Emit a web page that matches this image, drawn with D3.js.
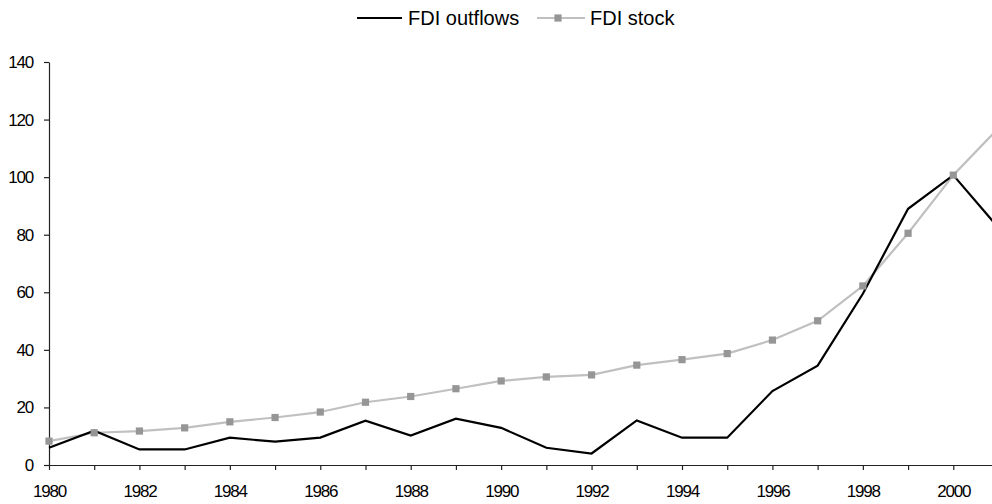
<!DOCTYPE html>
<html>
<head>
<meta charset="utf-8">
<script src="https://cdn.jsdelivr.net/npm/d3@7"></script>
<style>
  html, body { margin: 0; padding: 0; background: #fff; }
  svg { display: block; font-family: "Liberation Sans", Arial, sans-serif; }
</style>
</head>
<body>
<svg id="chart" width="992" height="504"></svg>
<script>
const years = [1980,1981,1982,1983,1984,1985,1986,1987,1988,1989,1990,1991,1992,1993,1994,1995,1996,1997,1998,1999,2000,2001];
const fdiOutflows = [6.0,11.9,5.4,5.4,9.5,8.1,9.5,15.4,10.2,16.1,12.9,6.0,4.0,15.5,9.5,9.5,25.7,34.5,59.5,89.0,100.7,82.4];
const fdiStock = [8.3,11.2,11.8,12.9,15.0,16.5,18.4,21.8,23.8,26.5,29.2,30.6,31.3,34.7,36.6,38.7,43.4,50.1,62.2,80.5,100.7,117.0];
const yTicks = [0,20,40,60,80,100,120,140];
const seriesNames = ["FDI outflows", "FDI stock"];

const svg = d3.select("#chart");
const x = d3.scaleLinear().domain([1980, 2001]).range([49, 998.5]);
const y = d3.scaleLinear().domain([0, 140]).range([465, 62]);

// Y axis
const yAxis = svg.append("g").attr("transform", "translate(49,0)")
  .call(d3.axisLeft(y).tickValues(yTicks).tickSize(5).tickSizeOuter(0).tickPadding(11));
yAxis.select(".domain").attr("stroke", "#222").attr("stroke-width", 1.2);
yAxis.selectAll(".tick line").attr("stroke", "#222").attr("stroke-width", 1.2);
yAxis.selectAll("text").attr("font-size", 17).attr("letter-spacing", "-1.2px")
  .attr("fill", "#000").attr("font-family", "'Liberation Sans', Arial, sans-serif");

// X axis
const xAxis = svg.append("g").attr("transform", "translate(0,465)")
  .call(d3.axisBottom(x).tickValues(years).tickSize(5).tickSizeOuter(0)
    .tickFormat(d => (d % 2 === 0 && d <= 2000) ? String(d) : ""));
xAxis.select(".domain").attr("stroke", "#222").attr("stroke-width", 1.2);
xAxis.selectAll(".tick line").attr("stroke", "#222").attr("stroke-width", 1.2);
xAxis.selectAll("text").attr("font-size", 17).attr("letter-spacing", "-1.2px")
  .attr("y", 32).attr("dy", null)
  .attr("fill", "#000").attr("font-family", "'Liberation Sans', Arial, sans-serif");

// Lines
const stockLine = d3.line().x((d, i) => x(years[i])).y(d => y(d));
svg.append("path").datum(fdiStock)
  .attr("fill", "none").attr("stroke", "#c0c0c0").attr("stroke-width", 2.2)
  .attr("stroke-linejoin", "round").attr("d", stockLine);

svg.append("path").datum(fdiOutflows)
  .attr("fill", "none").attr("stroke", "#000").attr("stroke-width", 2.2)
  .attr("stroke-linejoin", "miter").attr("d", stockLine);

svg.append("g").selectAll("rect").data(fdiStock).enter().append("rect")
  .attr("x", (d, i) => x(years[i]) - 3.6)
  .attr("y", d => y(d) - 3.6)
  .attr("width", 7.2).attr("height", 7.2)
  .attr("fill", "#969696");

// Legend
const lg = svg.append("g");
lg.append("line").attr("x1", 357).attr("x2", 402).attr("y1", 18).attr("y2", 18)
  .attr("stroke", "#000").attr("stroke-width", 2.2);
lg.append("text").attr("x", 408).attr("y", 25).attr("font-size", 20).attr("fill", "#000")
  .text(seriesNames[0]);
lg.append("line").attr("x1", 537).attr("x2", 585).attr("y1", 18).attr("y2", 18)
  .attr("stroke", "#c0c0c0").attr("stroke-width", 2.2);
lg.append("rect").attr("x", 558 - 3.6).attr("y", 18 - 3.6).attr("width", 7.2).attr("height", 7.2)
  .attr("fill", "#969696");
lg.append("text").attr("x", 590).attr("y", 25).attr("font-size", 20).attr("fill", "#000")
  .text(seriesNames[1]);
</script>
</body>
</html>
